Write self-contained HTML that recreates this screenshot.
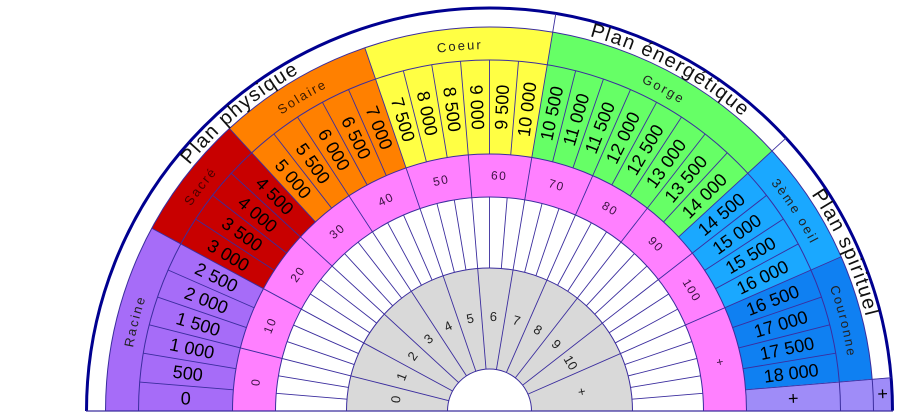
<!DOCTYPE html>
<html><head><meta charset="utf-8"><style>
html,body{margin:0;padding:0;background:#fff;width:904px;height:416px;overflow:hidden;}
svg{display:block;font-family:"Liberation Sans",sans-serif;}
</style></head><body>
<svg width="904" height="416" viewBox="0 0 904 416" xmlns="http://www.w3.org/2000/svg">
<defs>
<path id="pL" d="M 127.5 411 A 362 362 0 0 1 851.5 411"/>
<path id="pP" d="M 101.5 411 A 388 388 0 0 1 877.5 411"/>
<line id="sW" x1="346.5" y1="411" x2="275.5" y2="411"/>
<line id="sV" x1="232.5" y1="411" x2="138.5" y2="411"/>
<line id="sG" x1="447.5" y1="411" x2="138.5" y2="411"/>
<line id="sL" x1="138.5" y1="411" x2="105.5" y2="411"/>
<line id="sO" x1="105.5" y1="411" x2="86.5" y2="411"/>
</defs>
<rect width="904" height="416" fill="#fff"/>
<g transform="rotate(180 489.5 411)" fill="none">
<circle cx="489.5" cy="411" r="92.5" stroke="#d9d9d9" stroke-width="101" pathLength="360" stroke-dasharray="180 720"/>
<circle cx="489.5" cy="411" r="235.5" stroke="#ff80ff" stroke-width="43" pathLength="360" stroke-dasharray="180 720"/>
<g stroke-width="127">
<circle cx="489.5" cy="411" r="320.5" stroke="#a66cf8" pathLength="360" stroke-dasharray="28.421 720"/>
<circle cx="489.5" cy="411" r="320.5" stroke="#c80000" pathLength="360" stroke-dasharray="18.947 720" stroke-dashoffset="-28.421"/>
<circle cx="489.5" cy="411" r="320.5" stroke="#ff8000" pathLength="360" stroke-dasharray="23.684 720" stroke-dashoffset="-47.368"/>
<circle cx="489.5" cy="411" r="320.5" stroke="#ffff44" pathLength="360" stroke-dasharray="28.421 720" stroke-dashoffset="-71.053"/>
<circle cx="489.5" cy="411" r="320.5" stroke="#66ff66" pathLength="360" stroke-dasharray="37.895 720" stroke-dashoffset="-99.474"/>
<circle cx="489.5" cy="411" r="320.5" stroke="#1aa8ff" pathLength="360" stroke-dasharray="18.947 720" stroke-dashoffset="-137.368"/>
<circle cx="489.5" cy="411" r="320.5" stroke="#0f80f2" pathLength="360" stroke-dasharray="18.947 720" stroke-dashoffset="-156.316"/>
<circle cx="489.5" cy="411" r="320.5" stroke="#9f8cf8" pathLength="360" stroke-dasharray="4.737 720" stroke-dashoffset="-175.263"/>
</g>
<circle cx="489.5" cy="411" r="393.5" stroke="#9f8cf8" stroke-width="19" pathLength="360" stroke-dasharray="4.737 720" stroke-dashoffset="-175.263"/>
<g stroke="#3b2d9e" stroke-width="1">
<circle cx="489.5" cy="411" r="42" pathLength="360" stroke-dasharray="180 720"/>
<circle cx="489.5" cy="411" r="143" pathLength="360" stroke-dasharray="180 720"/>
<circle cx="489.5" cy="411" r="214" pathLength="360" stroke-dasharray="180 720"/>
<circle cx="489.5" cy="411" r="257" pathLength="360" stroke-dasharray="180 720"/>
<circle cx="489.5" cy="411" r="351" pathLength="360" stroke-dasharray="180 720"/>
<circle cx="489.5" cy="411" r="384" pathLength="360" stroke-dasharray="180 720"/>
</g>
<circle cx="489.5" cy="411" r="403" stroke="#000090" stroke-width="3" pathLength="360" stroke-dasharray="180 720"/>
</g>
<line x1="86" y1="411" x2="893" y2="411" stroke="#3b2d9e" stroke-width="1.2"/>
<g stroke="#3b2d9e" stroke-width="0.9">
<use href="#sW" transform="rotate(4.737 489.5 411)"/><use href="#sV" transform="rotate(4.737 489.5 411)"/>
<use href="#sW" transform="rotate(9.474 489.5 411)"/><use href="#sV" transform="rotate(9.474 489.5 411)"/>
<use href="#sG" transform="rotate(14.211 489.5 411)"/>
<use href="#sW" transform="rotate(18.947 489.5 411)"/><use href="#sV" transform="rotate(18.947 489.5 411)"/>
<use href="#sW" transform="rotate(23.684 489.5 411)"/><use href="#sV" transform="rotate(23.684 489.5 411)"/>
<use href="#sG" transform="rotate(28.421 489.5 411)"/>
<use href="#sW" transform="rotate(33.158 489.5 411)"/><use href="#sV" transform="rotate(33.158 489.5 411)"/>
<use href="#sW" transform="rotate(37.895 489.5 411)"/><use href="#sV" transform="rotate(37.895 489.5 411)"/>
<use href="#sG" transform="rotate(42.632 489.5 411)"/>
<use href="#sW" transform="rotate(47.368 489.5 411)"/><use href="#sV" transform="rotate(47.368 489.5 411)"/>
<use href="#sW" transform="rotate(52.105 489.5 411)"/><use href="#sV" transform="rotate(52.105 489.5 411)"/>
<use href="#sG" transform="rotate(56.842 489.5 411)"/>
<use href="#sW" transform="rotate(61.579 489.5 411)"/><use href="#sV" transform="rotate(61.579 489.5 411)"/>
<use href="#sW" transform="rotate(66.316 489.5 411)"/><use href="#sV" transform="rotate(66.316 489.5 411)"/>
<use href="#sG" transform="rotate(71.053 489.5 411)"/>
<use href="#sW" transform="rotate(75.789 489.5 411)"/><use href="#sV" transform="rotate(75.789 489.5 411)"/>
<use href="#sW" transform="rotate(80.526 489.5 411)"/><use href="#sV" transform="rotate(80.526 489.5 411)"/>
<use href="#sG" transform="rotate(85.263 489.5 411)"/>
<use href="#sW" transform="rotate(90 489.5 411)"/><use href="#sV" transform="rotate(90 489.5 411)"/>
<use href="#sW" transform="rotate(94.737 489.5 411)"/><use href="#sV" transform="rotate(94.737 489.5 411)"/>
<use href="#sG" transform="rotate(99.474 489.5 411)"/>
<use href="#sW" transform="rotate(104.211 489.5 411)"/><use href="#sV" transform="rotate(104.211 489.5 411)"/>
<use href="#sW" transform="rotate(108.947 489.5 411)"/><use href="#sV" transform="rotate(108.947 489.5 411)"/>
<use href="#sG" transform="rotate(113.684 489.5 411)"/>
<use href="#sW" transform="rotate(118.421 489.5 411)"/><use href="#sV" transform="rotate(118.421 489.5 411)"/>
<use href="#sW" transform="rotate(123.158 489.5 411)"/><use href="#sV" transform="rotate(123.158 489.5 411)"/>
<use href="#sG" transform="rotate(127.895 489.5 411)"/>
<use href="#sW" transform="rotate(132.632 489.5 411)"/><use href="#sV" transform="rotate(132.632 489.5 411)"/>
<use href="#sW" transform="rotate(137.368 489.5 411)"/><use href="#sV" transform="rotate(137.368 489.5 411)"/>
<use href="#sG" transform="rotate(142.105 489.5 411)"/>
<use href="#sW" transform="rotate(146.842 489.5 411)"/><use href="#sV" transform="rotate(146.842 489.5 411)"/>
<use href="#sW" transform="rotate(151.579 489.5 411)"/><use href="#sV" transform="rotate(151.579 489.5 411)"/>
<use href="#sG" transform="rotate(156.316 489.5 411)"/>
<use href="#sW" transform="rotate(161.053 489.5 411)"/><use href="#sV" transform="rotate(161.053 489.5 411)"/>
<use href="#sW" transform="rotate(165.789 489.5 411)"/><use href="#sV" transform="rotate(165.789 489.5 411)"/>
<use href="#sW" transform="rotate(170.526 489.5 411)"/><use href="#sV" transform="rotate(170.526 489.5 411)"/>
<use href="#sW" transform="rotate(175.263 489.5 411)"/><use href="#sV" transform="rotate(175.263 489.5 411)"/>
<use href="#sL" transform="rotate(28.421 489.5 411)"/>
<use href="#sL" transform="rotate(47.368 489.5 411)"/>
<use href="#sL" transform="rotate(71.053 489.5 411)"/>
<use href="#sL" transform="rotate(99.474 489.5 411)"/><use href="#sO" transform="rotate(99.474 489.5 411)"/>
<use href="#sL" transform="rotate(137.368 489.5 411)"/><use href="#sO" transform="rotate(137.368 489.5 411)"/>
<use href="#sL" transform="rotate(156.316 489.5 411)"/>
<use href="#sL" transform="rotate(175.263 489.5 411)"/><use href="#sO" transform="rotate(175.263 489.5 411)"/>
</g>
<g font-size="18" fill="#000" text-anchor="middle" dominant-baseline="central">
<text x="185.5" y="411" transform="rotate(2.368 489.5 411)">0</text>
<text x="185.5" y="411" transform="rotate(7.105 489.5 411)">500</text>
<text x="185.5" y="411" transform="rotate(11.842 489.5 411)">1 000</text>
<text x="185.5" y="411" transform="rotate(16.579 489.5 411)">1 500</text>
<text x="185.5" y="411" transform="rotate(21.316 489.5 411)">2 000</text>
<text x="185.5" y="411" transform="rotate(26.053 489.5 411)">2 500</text>
<text x="185.5" y="411" transform="rotate(30.789 489.5 411)">3 000</text>
<text x="185.5" y="411" transform="rotate(35.526 489.5 411)">3 500</text>
<text x="185.5" y="411" transform="rotate(40.263 489.5 411)">4 000</text>
<text x="185.5" y="411" transform="rotate(45 489.5 411)">4 500</text>
<text x="185.5" y="411" transform="rotate(49.737 489.5 411)">5 000</text>
<text x="185.5" y="411" transform="rotate(54.474 489.5 411)">5 500</text>
<text x="185.5" y="411" transform="rotate(59.211 489.5 411)">6 000</text>
<text x="185.5" y="411" transform="rotate(63.947 489.5 411)">6 500</text>
<text x="185.5" y="411" transform="rotate(68.684 489.5 411)">7 000</text>
<text x="185.5" y="411" transform="rotate(73.421 489.5 411)">7 500</text>
<text x="185.5" y="411" transform="rotate(78.158 489.5 411)">8 000</text>
<text x="185.5" y="411" transform="rotate(82.895 489.5 411)">8 500</text>
<text x="185.5" y="411" transform="rotate(87.632 489.5 411)">9 000</text>
<text x="185.5" y="411" transform="rotate(92.368 489.5 411) rotate(180 185.5 411)">9 500</text>
<text x="185.5" y="411" transform="rotate(97.105 489.5 411) rotate(180 185.5 411)">10 000</text>
<text x="185.5" y="411" transform="rotate(101.842 489.5 411) rotate(180 185.5 411)">10 500</text>
<text x="185.5" y="411" transform="rotate(106.579 489.5 411) rotate(180 185.5 411)">11 000</text>
<text x="185.5" y="411" transform="rotate(111.316 489.5 411) rotate(180 185.5 411)">11 500</text>
<text x="185.5" y="411" transform="rotate(116.053 489.5 411) rotate(180 185.5 411)">12 000</text>
<text x="185.5" y="411" transform="rotate(120.789 489.5 411) rotate(180 185.5 411)">12 500</text>
<text x="185.5" y="411" transform="rotate(125.526 489.5 411) rotate(180 185.5 411)">13 000</text>
<text x="185.5" y="411" transform="rotate(130.263 489.5 411) rotate(180 185.5 411)">13 500</text>
<text x="185.5" y="411" transform="rotate(135 489.5 411) rotate(180 185.5 411)">14 000</text>
<text x="185.5" y="411" transform="rotate(139.737 489.5 411) rotate(180 185.5 411)">14 500</text>
<text x="185.5" y="411" transform="rotate(144.474 489.5 411) rotate(180 185.5 411)">15 000</text>
<text x="185.5" y="411" transform="rotate(149.211 489.5 411) rotate(180 185.5 411)">15 500</text>
<text x="185.5" y="411" transform="rotate(153.947 489.5 411) rotate(180 185.5 411)">16 000</text>
<text x="185.5" y="411" transform="rotate(158.684 489.5 411) rotate(180 185.5 411)">16 500</text>
<text x="185.5" y="411" transform="rotate(163.421 489.5 411) rotate(180 185.5 411)">17 000</text>
<text x="185.5" y="411" transform="rotate(168.158 489.5 411) rotate(180 185.5 411)">17 500</text>
<text x="185.5" y="411" transform="rotate(172.895 489.5 411) rotate(180 185.5 411)">18 000</text>
<text x="185.5" y="411" transform="rotate(177.632 489.5 411) rotate(180 185.5 411)">+</text>
<text x="96" y="412" transform="rotate(177.632 489.5 411) rotate(180 96 412)">+</text>
</g>
<g font-size="12" fill="#3a1040" text-anchor="middle" dominant-baseline="central" letter-spacing="1.5">
<text x="254" y="411" transform="rotate(7.105 489.5 411) rotate(-90 254 411)">0</text>
<text x="254" y="411" transform="rotate(21.316 489.5 411) rotate(-90 254 411)">10</text>
<text x="254" y="411" transform="rotate(35.526 489.5 411) rotate(-90 254 411)">20</text>
<text x="254" y="411" transform="rotate(49.737 489.5 411) rotate(-90 254 411)">30</text>
<text x="254" y="411" transform="rotate(63.947 489.5 411) rotate(-90 254 411)">40</text>
<text x="254" y="411" transform="rotate(78.158 489.5 411) rotate(-90 254 411)">50</text>
<text x="254" y="411" transform="rotate(92.368 489.5 411) rotate(-90 254 411)">60</text>
<text x="254" y="411" transform="rotate(106.579 489.5 411) rotate(-90 254 411)">70</text>
<text x="254" y="411" transform="rotate(120.789 489.5 411) rotate(-90 254 411)">80</text>
<text x="254" y="411" transform="rotate(135 489.5 411) rotate(-90 254 411)">90</text>
<text x="254" y="411" transform="rotate(149.211 489.5 411) rotate(-90 254 411)">100</text>
<text x="254" y="411" transform="rotate(168.158 489.5 411) rotate(-90 254 411)">+</text>
</g>
<g font-size="13" fill="#222" text-anchor="middle" dominant-baseline="central">
<text x="395" y="411" transform="rotate(7.105 489.5 411) rotate(-90 395 411)">0</text>
<text x="395" y="411" transform="rotate(21.316 489.5 411) rotate(-90 395 411)">1</text>
<text x="395" y="411" transform="rotate(35.526 489.5 411) rotate(-90 395 411)">2</text>
<text x="395" y="411" transform="rotate(49.737 489.5 411) rotate(-90 395 411)">3</text>
<text x="395" y="411" transform="rotate(63.947 489.5 411) rotate(-90 395 411)">4</text>
<text x="395" y="411" transform="rotate(78.158 489.5 411) rotate(-90 395 411)">5</text>
<text x="395" y="411" transform="rotate(92.368 489.5 411) rotate(-90 395 411)">6</text>
<text x="395" y="411" transform="rotate(106.579 489.5 411) rotate(-90 395 411)">7</text>
<text x="395" y="411" transform="rotate(120.789 489.5 411) rotate(-90 395 411)">8</text>
<text x="395" y="411" transform="rotate(135 489.5 411) rotate(-90 395 411)">9</text>
<text x="395" y="411" transform="rotate(149.211 489.5 411) rotate(-90 395 411)">10</text>
<text x="395" y="411" transform="rotate(168.158 489.5 411) rotate(-90 395 411)">+</text>
</g>
<g font-size="13" fill="#222" text-anchor="middle" letter-spacing="2">
<text><textPath href="#pL" startOffset="7.9%">Racine</textPath></text>
<text fill="#4a0000"><textPath href="#pL" startOffset="21.05%">Sacré</textPath></text>
<text fill="#3a1a00"><textPath href="#pL" startOffset="32.9%">Solaire</textPath></text>
<text><textPath href="#pL" startOffset="47.4%">Coeur</textPath></text>
<text><textPath href="#pL" startOffset="65.8%">Gorge</textPath></text>
<text><textPath href="#pL" startOffset="81.6%">3ème oeil</textPath></text>
<text><textPath href="#pL" startOffset="92.1%">Couronne</textPath></text>
</g>
<g font-size="20" fill="#111" text-anchor="middle" letter-spacing="1.5">
<text><textPath href="#pP" startOffset="27.8%">Plan physique</textPath></text>
<text><textPath href="#pP" startOffset="65.5%">Plan énergétique</textPath></text>
<text><textPath href="#pP" startOffset="86.7%">Plan spirituel</textPath></text>
</g>
</svg>
</body></html>
